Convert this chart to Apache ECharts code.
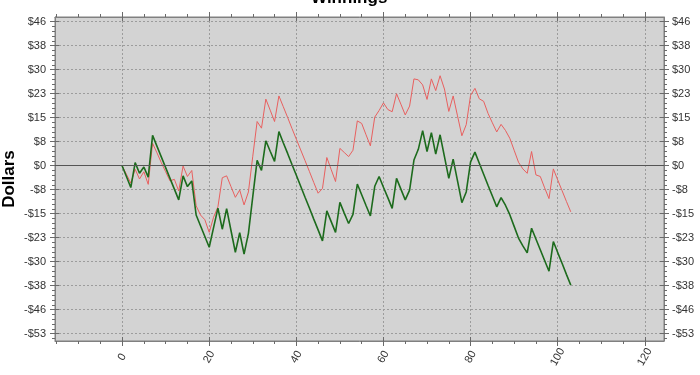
<!DOCTYPE html>
<html>
<head>
<meta charset="utf-8">
<script src="https://cdn.jsdelivr.net/npm/echarts@6/dist/echarts.min.js"></script>
<style>
html,body{margin:0;padding:0;background:#fff;}
#chart{width:700px;height:375px;}
</style>
</head>
<body>
<div id="chart"></div>
<script>
// ---- data ----
const titleText = 'Winnings';
const yName = 'Dollars';

const redSeries = [
  0, -2.7, -5.5, -1.1, -4.2, -1.9, -5.9, 7.1, 4.1, 1.0,
  -1.9, -4.8, -4.3, -8.0, -0.1, -3.4, -1.5, -12.7, -15.6, -17.1,
  -21.1, -16.3, -13.0, -3.8, -3.2, -6.6, -10.0, -7.7, -12.4, -8.3,
  3.0, 14.0, 11.9, 21.1, 17.6, 14.0, 22.1, 18.7, 15.3, 11.8,
  8.4, 5.0, 1.6, -1.8, -5.3, -8.7, -7.2, 2.6, -1.2, -5.0,
  5.5, 4.2, 2.9, 4.9, 14.2, 13.4, 9.8, 6.3, 15.4, 17.5,
  19.9, 17.8, 17.1, 22.8, 19.5, 16.1, 18.9, 27.5, 27.2, 25.6,
  21.0, 27.5, 23.8, 28.5, 24.3, 17.2, 22.1, 15.8, 9.5, 13.0,
  22.3, 24.5, 21.2, 20.4, 16.6, 13.6, 10.7, 13.1, 11.2, 8.7,
  4.9, 1.1, -1.0, -2.4, 4.5, -2.9, -3.4, -7.0, -10.4, -1.0,
  -4.5, -7.9, -11.3, -14.6
];

const greenSeries = [
  0, -3.4, -6.9, 1.0, -2.4, -0.4, -3.6, 9.6, 6.2, 2.8,
  -0.6, -4.0, -7.4, -10.8, -3.2, -6.6, -4.8, -15.6, -19.0, -22.4,
  -25.8, -19.6, -13.4, -20.1, -13.6, -20.5, -27.4, -21.2, -28.0, -21.4,
  -9.8, 1.7, -1.5, 7.9, 4.6, 1.4, 10.8, 7.3, 3.9, 0.4,
  -3.0, -6.5, -10.0, -13.4, -16.9, -20.3, -23.8, -14.3, -17.7, -21.1,
  -11.6, -15.0, -18.3, -15.4, -5.8, -9.2, -12.6, -15.9, -6.5, -3.4,
  -6.8, -10.1, -13.5, -4.0, -7.4, -10.8, -7.7, 1.8, 5.2, 11.1,
  4.5, 10.5, 3.7, 9.8, 2.9, -4.0, 2.1, -4.8, -11.7, -8.3,
  1.2, 4.3, 0.8, -2.7, -6.2, -9.6, -13.0, -10.1, -12.5, -15.5,
  -19.2, -22.9, -25.4, -27.6, -19.8, -23.2, -26.6, -30.0, -33.4, -24.0,
  -27.5, -30.9, -34.4, -37.8
];

const xMajorTicks = [0, 20, 40, 60, 80, 100, 120];
const xMinorTicks = [-15, -10, -5, 5, 10, 15, 25, 30, 35, 45, 50, 55, 65, 70, 75,
                     85, 90, 95, 105, 110, 115];
const yMajorTicks = [-53.2, -45.6, -38, -30.4, -22.8, -15.2, -7.6, 0,
                     7.6, 15.2, 22.8, 30.4, 38, 45.6];

// ---- layout / style ----
const XMIN = -15.4, XMAX = 124.4;
const YMIN = -55.5, YMAX = 47.1;
const FONT = 'Liberation Sans, Arial, sans-serif';

// minor y ticks: 5 subdivisions between majors
const yStep = yMajorTicks[1] - yMajorTicks[0];
const yMinorTicks = [];
for (let i = 0; i < yMajorTicks.length + 1; i++) {
  const base = (i === 0 ? yMajorTicks[0] - yStep : yMajorTicks[i - 1]);
  for (let k = 1; k < 5; k++) {
    const v = base + k * yStep / 5;
    if (v > YMIN && v < YMAX) yMinorTicks.push(+v.toFixed(3));
  }
}

function yLabel(v) {
  const r = Math.round(Math.abs(v));
  return (v < -0.01 ? '-' : '') + '$' + r;
}

const tickColor = '#6a6a6a';
const lineColor = '#808080';
const gridLineStyle = { color: '#9c9c9c', type: [2, 2], width: 1 };

function axisSet(kind, position, withLabels) {
  const majors = kind === 'x' ? xMajorTicks : yMajorTicks;
  const minors = kind === 'x' ? xMinorTicks : yMinorTicks;
  const mn = kind === 'x' ? XMIN : YMIN;
  const mx = kind === 'x' ? XMAX : YMAX;
  const base = { type: 'value', min: mn, max: mx, position: position, gridIndex: 0, silent: true };
  const main = Object.assign({}, base, {
    axisLine: { show: true, onZero: false, lineStyle: { color: lineColor, width: 1 } },
    axisTick: { show: true, customValues: majors, length: 5, inside: false, lineStyle: { color: tickColor } },
    axisLabel: { show: withLabels, customValues: majors, fontFamily: FONT, fontSize: 11, color: '#333' },
    splitLine: { show: withLabels && (position === 'bottom' || position === 'left'), lineStyle: gridLineStyle }
  });
  if (kind === 'x') {
    Object.assign(main.axisLabel, { rotate: 60, margin: 16, align: 'center', verticalAlign: 'middle' });
  } else {
    Object.assign(main.axisLabel, { formatter: yLabel, margin: 9 });
  }
  const inner = Object.assign({}, base, {
    axisLine: { show: false, onZero: false },
    axisTick: { show: true, customValues: majors, length: 4, inside: true, lineStyle: { color: tickColor } },
    axisLabel: { show: false },
    splitLine: { show: false }
  });
  const minor = Object.assign({}, base, {
    axisLine: { show: false, onZero: false },
    axisTick: { show: true, customValues: minors, length: 3, inside: false, lineStyle: { color: tickColor } },
    axisLabel: { show: false },
    splitLine: { show: false }
  });
  return [main, inner, minor];
}

const xAxes = [].concat(axisSet('x', 'bottom', true), axisSet('x', 'top', false));
const yAxes = [].concat(axisSet('y', 'left', true), axisSet('y', 'right', true));
yAxes[3].axisLabel.margin = 8;
// y axis title
Object.assign(yAxes[0], {
  name: yName, nameLocation: 'middle', nameGap: 37, nameMoveOverlap: false,
  nameTextStyle: { fontFamily: FONT, fontSize: 17, fontWeight: 'bold', color: '#000' }
});

const chart = echarts.init(document.getElementById('chart'), null, { renderer: 'canvas' });
chart.setOption({
  animation: false,
  backgroundColor: '#ffffff',
  title: {
    text: titleText, left: 306, top: -15,
    textStyle: { fontFamily: FONT, fontSize: 17, fontWeight: 'bold', color: '#000' }
  },
  grid: {
    left: 55, right: 36, top: 17, bottom: 34,
    show: true, backgroundColor: '#d3d3d3', borderColor: lineColor, borderWidth: 1,
    containLabel: false, outerBoundsMode: 'none'
  },
  xAxis: xAxes,
  yAxis: yAxes,
  series: [
    {
      type: 'line', name: 'Gross', xAxisIndex: 0, yAxisIndex: 0,
      data: redSeries.map((v, i) => [i, v]),
      showSymbol: false, symbol: 'none',
      lineStyle: { color: '#e8605f', width: 1 },
      z: 3,
      markLine: {
        silent: true, symbol: 'none', label: { show: false },
        lineStyle: { color: '#555555', type: 'solid', width: 1 },
        data: [{ yAxis: 0 }]
      }
    },
    {
      type: 'line', name: 'Net', xAxisIndex: 0, yAxisIndex: 0,
      data: greenSeries.map((v, i) => [i, v]),
      showSymbol: false, symbol: 'none',
      lineStyle: { color: '#1d6b1d', width: 1.6 },
      z: 4
    }
  ]
});
</script>
</body>
</html>
